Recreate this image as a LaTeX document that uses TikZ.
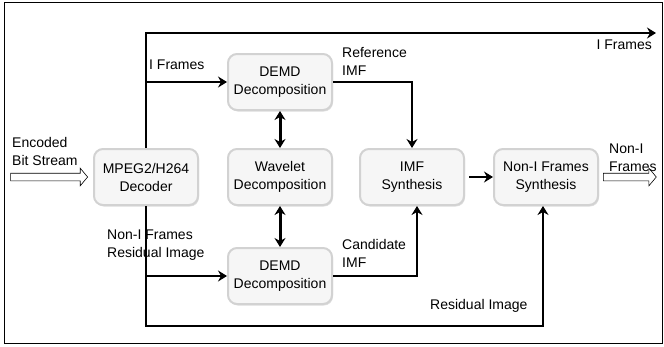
\documentclass[tikz,border=0pt]{standalone}
\usepackage{fontspec}
\setmainfont{Liberation Sans}
\usetikzlibrary{shapes.arrows,shadows,arrows.meta}

\tikzset{
  blockbox/.style={draw=gray!35, line width=2pt, fill=gray!7, rounded corners=9pt,
    minimum width=104pt, minimum height=56pt, align=center,
    drop shadow={opacity=0.25, shadow xshift=1pt, shadow yshift=-1.5pt}},
  lbl/.style={align=left, inner sep=0pt},
  flow/.style={line width=2pt},
  dbl/.style={line width=3pt, <->},
  hollow/.style={single arrow, draw, semithick, fill=white, inner xsep=0pt, inner ysep=3.5pt,
    single arrow head extend=5pt, single arrow tip angle=100, shape border rotate=0}
}

\begin{document}
\begin{tikzpicture}[>={Stealth[length=9pt, width=11pt, inset=3pt]}, x=1pt, y=-1pt, font=\fontsize{14}{18}\selectfont]
\useasboundingbox (0,0) rectangle (664,346);
\draw[line width=1pt] (4,2) rectangle (662,343);

\node[blockbox] (dec) at (146,177) {MPEG2/H264\\Decoder};
\node[blockbox] (demdA) at (280,82) {DEMD\\Decomposition};
\node[blockbox] (wav) at (280,177) {Wavelet\\Decomposition};
\node[blockbox] (demdB) at (280,276) {DEMD\\Decomposition};
\node[blockbox] (imf) at (412,177) {IMF\\Synthesis};
\node[blockbox] (nonI) at (546,177) {Non-I Frames\\Synthesis};

\coordinate (iend) at (656,33);
\coordinate (bot) at (146,326);

% input and output
\node[hollow, minimum height=77pt, anchor=tip] (inarr) at ([xshift=-5pt]dec.west) {};
\node[hollow, minimum height=53pt, anchor=tail] (outarr) at ([xshift=4pt]nonI.east) {};

% I frames
\draw[flow, ->] (dec.north) |- (iend);
\draw[flow, ->] (dec.north |- demdA.west) -- (demdA.west);
\draw[dbl] (demdA.south) -- (wav.north);
\draw[dbl] (wav.south) -- (demdB.north);
\draw[flow, ->] (demdA.east) -| (imf.north);

% non-I frames
\draw[flow, ->] (dec.south |- demdB.west) -- (demdB.west);
\draw[flow, ->] (demdB.east) -| ([xshift=5pt]imf.south);
\draw[flow, ->] (dec.south) -- (bot) -| ([xshift=-3pt]nonI.south);
\draw[flow, ->] ([xshift=4pt]imf.east) -- (nonI.west);

% labels
\node[lbl, anchor=west] (lencoded) at (12,151) {Encoded\\Bit Stream};
\node[lbl, anchor=west] (lifr) at (149,65) {I Frames};
\node[lbl, anchor=east] (lifrout) at (652,45) {I Frames};
\node[lbl, anchor=west] (lnoni) at (107,245) {Non-I Frames\\Residual Image};
\node[lbl, anchor=west] (lref) at (342,61) {Reference\\IMF};
\node[lbl, anchor=west] (lcand) at (342,253) {Candidate\\IMF};
\node[lbl, anchor=west] (lres) at (430,306) {Residual Image};
\node[lbl, anchor=west] (lout) at (609,158) {Non-I\\Frames};

\end{tikzpicture}
\end{document}
